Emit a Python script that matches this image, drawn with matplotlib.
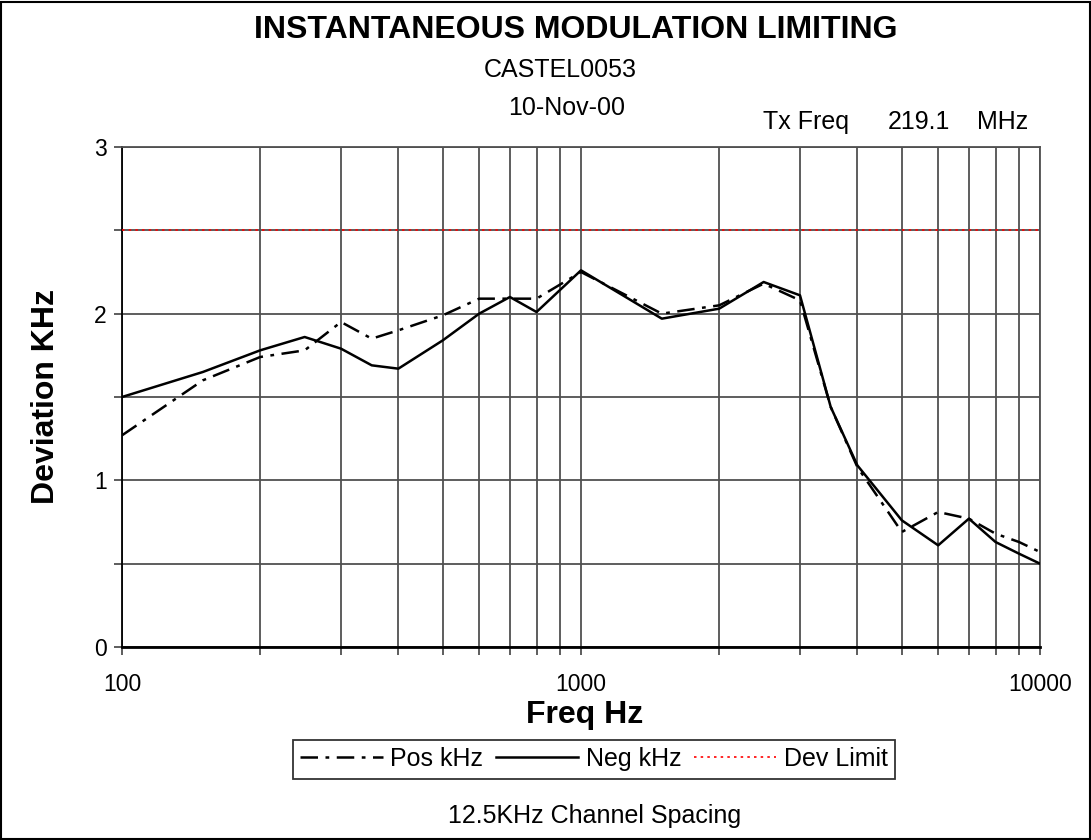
import matplotlib
matplotlib.use("Agg")
import matplotlib.pyplot as plt
from matplotlib.patches import Rectangle
from matplotlib.ticker import FixedLocator, NullFormatter

plt.rcParams['font.family'] = ['Liberation Sans', 'DejaVu Sans']

# data
freq_hz = [100, 150, 200, 250, 300, 350, 400, 500, 600, 700, 800, 1000,
           1500, 2000, 2500, 3000, 3500, 4000, 5000, 6000, 7000, 8000, 9000, 10000]
pos_khz = [1.27, 1.60, 1.74, 1.78, 1.95, 1.85, 1.90, 1.99, 2.09, 2.09, 2.09, 2.25,
           2.00, 2.05, 2.18, 2.08, 1.44, 1.08, 0.69, 0.81, 0.77, 0.68, 0.63, 0.57]
neg_khz = [1.50, 1.65, 1.78, 1.86, 1.79, 1.69, 1.67, 1.84, 2.00, 2.10, 2.01, 2.26,
           1.97, 2.03, 2.19, 2.11, 1.44, 1.09, 0.76, 0.61, 0.77, 0.63, 0.56, 0.50]
dev_limit = 2.5

x_tick_labels = ["100", "1000", "10000"]
y_tick_labels = ["0", "1", "2", "3"]

fig = plt.figure(figsize=(10.91, 8.4), dpi=100)
ax = fig.add_axes([122 / 1091, 1 - 647 / 840, (1040 - 122) / 1091, (647 - 147) / 840])

grid_col = "#505050"
ax.plot(freq_hz, pos_khz, color="black", linewidth=1.8, linestyle=(0, (7, 3, 1.5, 3)), label="Pos kHz", zorder=3)
ax.plot(freq_hz, neg_khz, color="black", linewidth=1.8, label="Neg kHz", zorder=4)
ax.plot([100, 10000], [dev_limit, dev_limit], color="red", linewidth=1.2, linestyle=(0, (1.5, 2.5)), label="Dev Limit", zorder=5)

ax.set_xscale("log")
ax.set_xlim(100, 10000)
ax.set_ylim(0, 3)
ax.set_xticks([100, 1000, 10000])
ax.set_xticklabels(x_tick_labels)
minor_x = [m * d for d in (100, 1000) for m in range(2, 10)]
ax.xaxis.set_minor_locator(FixedLocator(minor_x))
ax.xaxis.set_minor_formatter(NullFormatter())
ax.set_yticks([0, 1, 2, 3])
ax.set_yticklabels(y_tick_labels)
ax.yaxis.set_minor_locator(FixedLocator([0.5, 1.5, 2.5]))

ax.grid(True, which="both", color=grid_col, linewidth=1.3)
ax.set_axisbelow(True)
ax.tick_params(which="both", direction="out", length=6, width=1.3, color=grid_col, labelsize=16.5, pad=5)
ax.tick_params(axis="x", which="major", pad=13)
for s in ax.spines.values():
    s.set_color(grid_col)
    s.set_linewidth(1.3)
ax.spines["left"].set_color("black")
ax.spines["bottom"].set_color("black")
ax.spines["bottom"].set_linewidth(2)

ax.set_xlabel("Freq Hz", fontsize=23, fontweight="bold")
ax.xaxis.set_label_coords(585 / 1091, 1 - 715 / 840, transform=fig.transFigure)
ax.xaxis.label.set_va("center")
ax.set_ylabel("Deviation KHz", fontsize=23, fontweight="bold")
ax.yaxis.set_label_coords(46 / 1091, 1 - 397 / 840, transform=fig.transFigure)
ax.yaxis.label.set_va("center")

fig.text(576 / 1091, 1 - 30 / 840, "INSTANTANEOUS MODULATION LIMITING", fontsize=23, fontweight="bold",
         ha="center", va="center")
fig.text(560 / 1091, 1 - 70 / 840, "CASTEL0053", fontsize=18, ha="center", va="center")
fig.text(567 / 1091, 1 - 108 / 840, "10-Nov-00", fontsize=18, ha="center", va="center")
fig.text(763 / 1091, 1 - 122 / 840, "Tx Freq", fontsize=18, ha="left", va="center")
fig.text(888 / 1091, 1 - 122 / 840, "219.1", fontsize=18, ha="left", va="center")
fig.text(1028 / 1091, 1 - 122 / 840, "MHz", fontsize=18, ha="right", va="center")
fig.text(595 / 1091, 1 - 816 / 840, "12.5KHz Channel Spacing", fontsize=18, ha="center", va="center")

leg = fig.legend(loc="center", bbox_to_anchor=(594 / 1091, 1 - 759 / 840), ncol=3, fontsize=18,
                 frameon=True, fancybox=False, edgecolor="black", handlelength=3.3, handletextpad=0.3,
                 columnspacing=0.5, borderpad=0.3)
leg.get_frame().set_linewidth(1.3)

fig.patches.append(Rectangle((0.001, 0.001), 0.998, 0.997, transform=fig.transFigure,
                             fill=False, edgecolor="black", linewidth=1.5))

fig.savefig("out.png", dpi=100)
